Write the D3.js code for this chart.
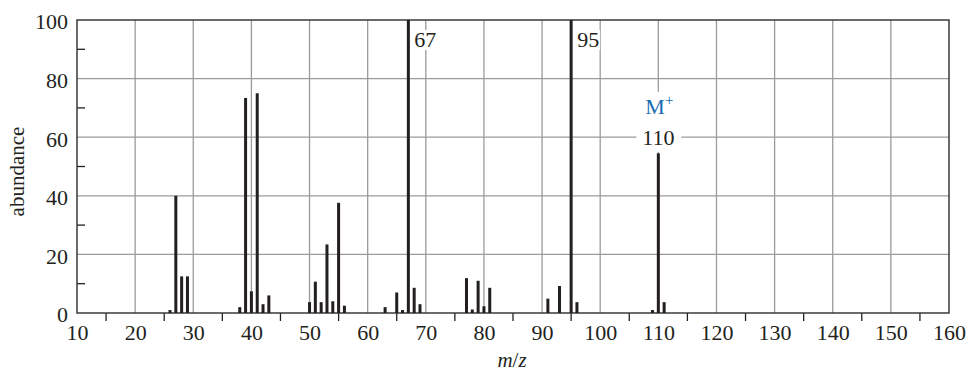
<!DOCTYPE html>
<html>
<head>
<meta charset="utf-8">
<script src="https://cdn.jsdelivr.net/npm/d3@7"></script>
<style>
  body { margin: 0; background: #fff; }
  svg text { font-family: "Liberation Serif", "DejaVu Serif", serif; fill: #231f20; }
</style>
</head>
<body>
<div id="chart"></div>
<script>
// peaks
var mz = [26, 27, 28, 29, 38, 39, 40, 41, 42, 43, 50, 51, 52, 53, 54, 55, 56,
          63, 65, 66, 67, 68, 69, 77, 78, 79, 80, 81, 91, 93, 95, 96, 109, 110, 111];
var abundance = [1, 40, 12.5, 12.5, 2, 73.4, 7.4, 75, 3, 6, 3.7, 10.7, 3.7, 23.4, 4, 37.6, 2.5,
                 2, 7, 1, 100, 8.6, 3, 11.9, 1.2, 11, 2.3, 8.6, 4.9, 9.2, 100, 3.7, 1, 54.5, 3.7];
var xTicks = [10, 20, 30, 40, 50, 60, 70, 80, 90, 100, 110, 120, 130, 140, 150, 160];
var yTicks = [0, 20, 40, 60, 80, 100];
var peakLabels = ["67", "95"];

// set the dimensions and margins of the graph
var margin = {top: 20, right: 19, bottom: 61, left: 77},
    width = 968 - margin.left - margin.right,
    height = 374 - margin.top - margin.bottom;

var svg = d3.select("#chart")
  .append("svg")
    .attr("width", 968)
    .attr("height", 374)
  .append("g")
    .attr("transform", "translate(" + margin.left + "," + margin.top + ")");

var x = d3.scaleLinear().domain([10, 160]).range([0, width]);
var y = d3.scaleLinear().domain([0, 100]).range([height, 0]);

// grid
svg.append("g").selectAll("line")
  .data(xTicks.slice(1, -1))
  .enter().append("line")
    .attr("x1", function(d) { return x(d); })
    .attr("x2", function(d) { return x(d); })
    .attr("y1", 0).attr("y2", height)
    .attr("stroke", "#9b9b9b").attr("stroke-width", 1.3);
svg.append("g").selectAll("line")
  .data(yTicks.slice(1, -1))
  .enter().append("line")
    .attr("x1", 0).attr("x2", width)
    .attr("y1", function(d) { return y(d); })
    .attr("y2", function(d) { return y(d); })
    .attr("stroke", "#9b9b9b").attr("stroke-width", 1.3);

// minor ticks
svg.append("g").selectAll("line")
  .data(xTicks.slice(0, -1).map(function(d) { return d + 5; }))
  .enter().append("line")
    .attr("x1", function(d) { return x(d); })
    .attr("x2", function(d) { return x(d); })
    .attr("y1", height).attr("y2", height + 8)
    .attr("stroke", "#231f20").attr("stroke-width", 1.3);
svg.append("g").selectAll("line")
  .data(yTicks.slice(0, -1).map(function(d) { return d + 10; }))
  .enter().append("line")
    .attr("x1", 0).attr("x2", 8)
    .attr("y1", function(d) { return y(d); })
    .attr("y2", function(d) { return y(d); })
    .attr("stroke", "#231f20").attr("stroke-width", 1.3);

// frame
svg.append("rect")
  .attr("width", width).attr("height", height)
  .attr("fill", "none").attr("stroke", "#3a3a3a").attr("stroke-width", 1.5);

// axes
var xAxis = svg.append("g")
  .attr("transform", "translate(0," + height + ")")
  .call(d3.axisBottom(x).tickValues(xTicks).tickSize(0).tickPadding(11));
var yAxis = svg.append("g")
  .call(d3.axisLeft(y).tickValues(yTicks).tickSize(0).tickPadding(9));
[xAxis, yAxis].forEach(function(a) {
  a.select(".domain").remove();
  a.selectAll("text").attr("font-size", "22px").style("font-family", "Liberation Serif, serif").attr("fill", "#231f20");
});
yAxis.selectAll("text").attr("dy", "0.4em");

//Bars
svg.selectAll("rect.bar")
  .data(mz)
  .enter()
  .append("rect")
    .attr("class", "bar")
    .attr("x", function(d) { return x(d) - 1.5; })
    .attr("y", function(d, i) { return y(abundance[i]); })
    .attr("width", 3)
    .attr("height", function(d, i) { return height - y(abundance[i]); })
    .attr("fill", "#231f20");

// labels on the base peaks
peakLabels.forEach(function(t) {
  var lx = x(+t) + 5;
  svg.append("rect")
    .attr("x", lx).attr("y", 10).attr("width", 24).attr("height", 20).attr("fill", "#fff");
  svg.append("text")
    .attr("x", lx + 1).attr("y", 27)
    .attr("font-size", "22px")
    .text(t);
});

// molecular ion
svg.append("rect")
  .attr("x", x(110) - 22).attr("y", y(75.5)).attr("width", 45).attr("height", y(55) - y(75.5))
  .attr("fill", "#fff");
svg.append("text")
  .attr("x", x(110)).attr("y", y(60) + 8)
  .attr("text-anchor", "middle")
  .attr("font-size", "22px")
  .text("110");
var mt = svg.append("text")
  .attr("x", x(110) + 1).attr("y", y(67.5) - 1)
  .attr("text-anchor", "middle")
  .attr("font-size", "22px")
  .style("fill", "#1b6db3");
mt.append("tspan").text("M");
mt.append("tspan").attr("dy", -9).attr("font-size", "15px").style("fill", "#1b6db3").text("+");

// axis titles
svg.append("text")
  .attr("transform", "translate(-53," + (height / 2 + 5) + ") rotate(-90)")
  .attr("text-anchor", "middle")
  .attr("font-size", "21px")
  .text("abundance");
var xt = svg.append("text")
  .attr("x", width / 2 - 1).attr("y", height + 54)
  .attr("text-anchor", "middle")
  .attr("font-size", "21px");
xt.append("tspan").attr("font-style", "italic").text("m");
xt.append("tspan").text("/");
xt.append("tspan").attr("font-style", "italic").text("z");
</script>
</body>
</html>
